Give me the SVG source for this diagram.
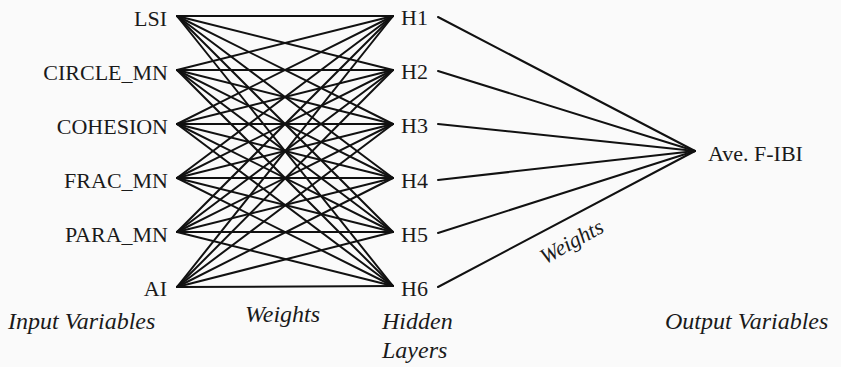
<svg xmlns="http://www.w3.org/2000/svg" width="841" height="367" viewBox="0 0 841 367">
<style>
.lbl{font-size:22px;fill:#1a1a1a}
.it{font-size:24px;font-style:italic;fill:#1a1a1a}
.c line{stroke:#111;stroke-width:2;stroke-linecap:round}
</style>
<rect width="841" height="367" fill="#fafafa"/>
<g id="connectors" class="c">
<g id="input-hidden">
<line x1="177" y1="16" x2="393" y2="16"/><line x1="177" y1="16" x2="393" y2="70"/><line x1="177" y1="16" x2="393" y2="124"/><line x1="177" y1="16" x2="393" y2="178"/><line x1="177" y1="16" x2="393" y2="232"/><line x1="177" y1="16" x2="393" y2="286"/>
<line x1="177" y1="70" x2="393" y2="16"/><line x1="177" y1="70" x2="393" y2="70"/><line x1="177" y1="70" x2="393" y2="124"/><line x1="177" y1="70" x2="393" y2="178"/><line x1="177" y1="70" x2="393" y2="232"/><line x1="177" y1="70" x2="393" y2="286"/>
<line x1="177" y1="124" x2="393" y2="16"/><line x1="177" y1="124" x2="393" y2="70"/><line x1="177" y1="124" x2="393" y2="124"/><line x1="177" y1="124" x2="393" y2="178"/><line x1="177" y1="124" x2="393" y2="232"/><line x1="177" y1="124" x2="393" y2="286"/>
<line x1="177" y1="178" x2="393" y2="16"/><line x1="177" y1="178" x2="393" y2="70"/><line x1="177" y1="178" x2="393" y2="124"/><line x1="177" y1="178" x2="393" y2="178"/><line x1="177" y1="178" x2="393" y2="232"/><line x1="177" y1="178" x2="393" y2="286"/>
<line x1="177" y1="232" x2="393" y2="16"/><line x1="177" y1="232" x2="393" y2="70"/><line x1="177" y1="232" x2="393" y2="124"/><line x1="177" y1="232" x2="393" y2="178"/><line x1="177" y1="232" x2="393" y2="232"/><line x1="177" y1="232" x2="393" y2="286"/>
<line x1="177" y1="287" x2="393" y2="16"/><line x1="177" y1="287" x2="393" y2="70"/><line x1="177" y1="287" x2="393" y2="124"/><line x1="177" y1="287" x2="393" y2="178"/><line x1="177" y1="287" x2="393" y2="232"/><line x1="177" y1="287" x2="393" y2="286"/>
</g>
<g id="hidden-output">
<line x1="438" y1="17" x2="695" y2="151"/><line x1="438" y1="71" x2="695" y2="151"/><line x1="438" y1="124" x2="695" y2="151"/><line x1="438" y1="180" x2="695" y2="151"/><line x1="438" y1="233" x2="695" y2="151"/><line x1="438" y1="287" x2="695" y2="151"/>
</g>
</g>
<g font-family="Liberation Serif, Times New Roman, DejaVu Serif, serif">
<g id="input-nodes" class="lbl" text-anchor="end">
<g id="LSI"><text x="167" y="26">LSI</text></g>
<g id="CIRCLE_MN"><text x="168" y="80">CIRCLE_MN</text></g>
<g id="COHESION"><text x="168" y="134">COHESION</text></g>
<g id="FRAC_MN"><text x="168" y="188">FRAC_MN</text></g>
<g id="PARA_MN"><text x="168" y="242">PARA_MN</text></g>
<g id="AI"><text x="167" y="296">AI</text></g>
</g>
<g id="hidden-nodes" class="lbl">
<g id="H1"><text x="401" y="25">H1</text></g>
<g id="H2"><text x="401" y="79">H2</text></g>
<g id="H3"><text x="401" y="133">H3</text></g>
<g id="H4"><text x="401" y="188">H4</text></g>
<g id="H5"><text x="401" y="242">H5</text></g>
<g id="H6"><text x="401" y="296">H6</text></g>
</g>
<g id="output-node" class="lbl"><text x="708" y="161">Ave. F-IBI</text></g>
<g id="captions" class="it">
<text x="8" y="329">Input Variables</text>
<text x="245" y="322">Weights</text>
<text x="382" y="329">Hidden</text>
<text x="382" y="358">Layers</text>
<text x="665" y="329">Output Variables</text>
<text transform="translate(575,248) rotate(-29)" text-anchor="middle" style="font-size:22px">Weights</text>
</g>
</g>
</svg>
